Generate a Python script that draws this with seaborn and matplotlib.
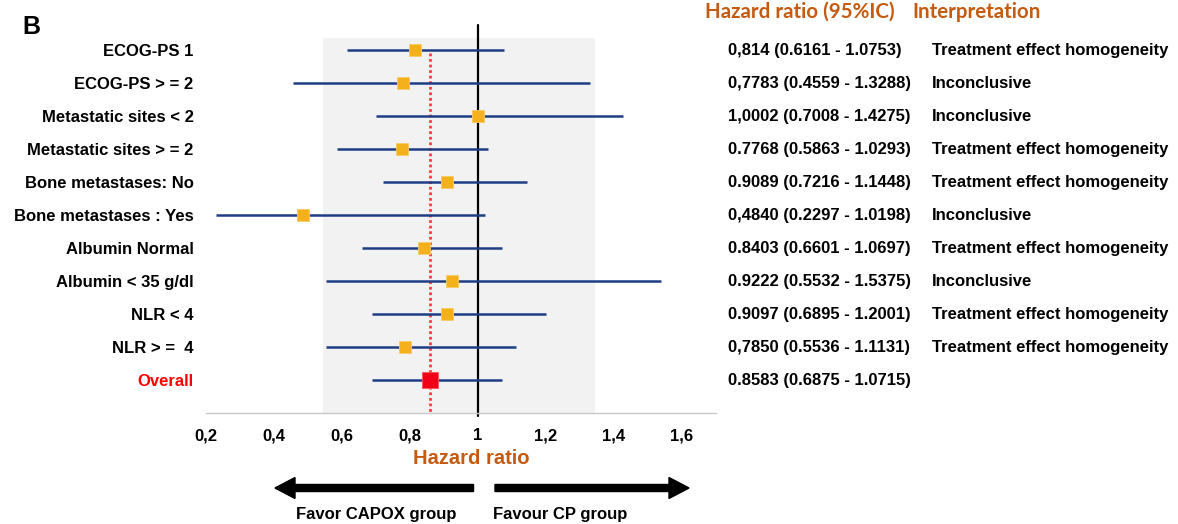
import matplotlib
matplotlib.use("Agg")
import matplotlib.pyplot as plt
from matplotlib.patches import FancyArrow, Rectangle
from matplotlib.transforms import blended_transform_factory
import seaborn as sns
import pandas as pd

# ---------------- data ----------------
labels = ["ECOG-PS 1", "ECOG-PS > = 2", "Metastatic sites < 2", "Metastatic sites > = 2",
          "Bone metastases: No", "Bone metastases : Yes", "Albumin Normal",
          "Albumin < 35 g/dl", "NLR < 4", "NLR > =  4", "Overall"]
hr = [0.814, 0.7783, 1.0002, 0.7768, 0.9089, 0.4840, 0.8403, 0.9222, 0.9097, 0.7850, 0.8583]
lower = [0.6161, 0.4559, 0.7008, 0.5863, 0.7216, 0.2297, 0.6601, 0.5532, 0.6895, 0.5536, 0.6875]
upper = [1.0753, 1.3288, 1.4275, 1.0293, 1.1448, 1.0198, 1.0697, 1.5375, 1.2001, 1.1131, 1.0715]
hr_text = ["0,814 (0.6161 - 1.0753)", "0,7783 (0.4559 - 1.3288)", "1,0002 (0.7008 - 1.4275)",
           "0.7768 (0.5863 - 1.0293)", "0.9089 (0.7216 - 1.1448)", "0,4840 (0.2297 - 1.0198)",
           "0.8403 (0.6601 - 1.0697)", "0.9222 (0.5532 - 1.5375)", "0.9097 (0.6895 - 1.2001)",
           "0,7850 (0.5536 - 1.1131)", "0.8583 (0.6875 - 1.0715)"]
interp = ["Treatment effect homogeneity", "Inconclusive", "Inconclusive",
          "Treatment effect homogeneity", "Treatment effect homogeneity", "Inconclusive",
          "Treatment effect homogeneity", "Inconclusive", "Treatment effect homogeneity",
          "Treatment effect homogeneity", ""]
xticks = [0.2, 0.4, 0.6, 0.8, 1.0, 1.2, 1.4, 1.6]
xtick_labels = ["0,2", "0,4", "0,6", "0,8", "1", "1,2", "1,4", "1,6"]
shade_range = (0.545, 1.345)

df = pd.DataFrame({"label": labels, "hr": hr, "lower": lower, "upper": upper})
df["pos"] = range(len(df))
df["kind"] = ["sub"] * (len(df) - 1) + ["overall"]

# ---------------- style ----------------
sns.set_style("white")
plt.rcParams["font.family"] = ["Liberation Sans", "DejaVu Sans"]
plt.rcParams["font.weight"] = "bold"
plt.rcParams["text.color"] = "black"
plt.rcParams["axes.labelcolor"] = "black"
plt.rcParams["xtick.color"] = "black"
plt.rcParams["ytick.color"] = "black"

W, H = 1178, 524
FS = 12
fig = plt.figure(figsize=(W / 100, H / 100), dpi=100)
ax_left, ax_right, ax_top, ax_bottom = 206, 716, 25, 413
ax = fig.add_axes([ax_left / W, 1 - ax_bottom / H, (ax_right - ax_left) / W, (ax_bottom - ax_top) / H])

NAVY = "#1F3D85"
ORANGE = "#F4B11C"
RED = "#F20018"
BROWN = "#C55A11"

ax.set_xlim(0.2, 1.7)
ax.set_ylim(11.0, -0.76)

# shaded zone
ax.add_patch(Rectangle((shade_range[0], -0.36), shade_range[1] - shade_range[0], 11.36,
                       facecolor="#F2F2F2", edgecolor="none", zorder=0))
# reference line at 1 and overall dotted line
ax.axvline(1.0, color="black", lw=1.6, zorder=2, ymin=-0.008, clip_on=False)
overall_hr = df.loc[df["kind"] == "overall", "hr"].iloc[0]
ax.vlines(overall_hr, 0.1, 11.0, color="#FF3B3B", lw=2.0, linestyles=(0, (1, 1)), zorder=2)

# CI lines
ax.hlines(df["pos"], df["lower"], df["upper"], color=NAVY, lw=1.8, zorder=3)

sub = df[df["kind"] == "sub"]
ov = df[df["kind"] == "overall"]
sns.scatterplot(data=sub, x="hr", y="pos", marker="s", s=64, color=ORANGE,
                edgecolor="#F7CB6A", linewidth=0.6, ax=ax, zorder=4, legend=False)
sns.scatterplot(data=ov, x="hr", y="pos", marker="s", s=120, color=RED,
                edgecolor="#F55", linewidth=0.6, ax=ax, zorder=4, legend=False)

# axes formatting
ax.set_xticks(xticks)
ax.set_xticklabels(xtick_labels, fontsize=FS, fontweight="bold", color="black")
ax.set_yticks(df["pos"])
ax.set_yticklabels(df["label"], fontsize=FS, fontweight="bold", color="black")
ax.get_yticklabels()[-1].set_color("#FF0000")
ax.tick_params(axis="x", length=0, pad=11)
ax.tick_params(axis="y", length=0, pad=9)
for s in ["top", "left", "right"]:
    ax.spines[s].set_visible(False)
ax.spines["bottom"].set_color("#C8C8C8")
ax.spines["bottom"].set_linewidth(1.0)
ax.set_xlabel("")
ax.set_ylabel("")
fig.text(471 / W, 1 - 458 / H, "Hazard ratio", ha="center", va="center",
         fontsize=14.5, fontweight="bold", color=BROWN)

# right-hand text columns
tr = blended_transform_factory(fig.transFigure, ax.transData)
for i, (t1, t2) in enumerate(zip(hr_text, interp)):
    ax.text(728 / W, i, t1, transform=tr, ha="left", va="center", fontsize=FS, fontweight="bold")
    if t2:
        ax.text(932 / W, i, t2, transform=tr, ha="left", va="center", fontsize=FS, fontweight="bold")

fig.text(705 / W, 1 - 12 / H, "Hazard ratio (95%IC)", ha="left", va="center",
         fontsize=14.8, fontweight="bold", color=BROWN, family=["Lato", "DejaVu Sans"])
fig.text(912 / W, 1 - 12 / H, "Interpretation", ha="left", va="center",
         fontsize=14.8, fontweight="bold", color=BROWN, family=["Lato", "DejaVu Sans"])

# panel letter
fig.text(22 / W, 1 - 27 / H, "B", ha="left", va="center", fontsize=18, fontweight="bold")

# arrows
ay = 1 - 488 / H
fig.add_artist(FancyArrow(473.5 / W, ay, (275 - 473.5) / W, 0, width=7 / H, head_width=21 / H,
                          head_length=20 / W, length_includes_head=True, color="black",
                          transform=fig.transFigure))
fig.add_artist(FancyArrow(495 / W, ay, (689 - 495) / W, 0, width=7 / H, head_width=21 / H,
                          head_length=20 / W, length_includes_head=True, color="black",
                          transform=fig.transFigure))
fig.text(376 / W, 1 - 514 / H, "Favor CAPOX group", ha="center", va="center", fontsize=FS, fontweight="bold")
fig.text(560 / W, 1 - 514 / H, "Favour CP group", ha="center", va="center", fontsize=FS, fontweight="bold")

fig.savefig("out.png", dpi=100)
